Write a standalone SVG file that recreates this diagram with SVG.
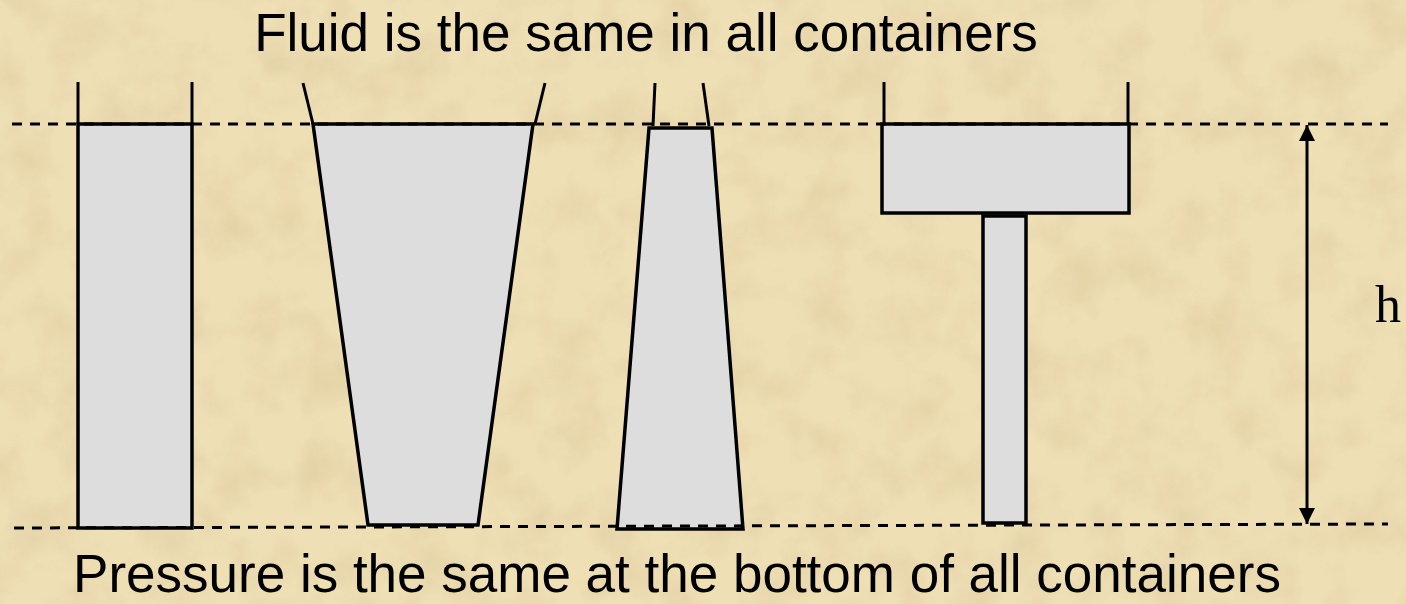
<svg xmlns="http://www.w3.org/2000/svg" width="1406" height="604" viewBox="0 0 1406 604">
  <style>
    .fluid { fill: #dddddd; stroke: #000; stroke-width: 3.5; stroke-linejoin: miter; }
    .wall { stroke: #000; stroke-width: 3; fill: none; }
    .dash { stroke: #000; stroke-width: 3; stroke-dasharray: 10 8; fill: none; }
    .label { font-family: "Liberation Sans", Arial, sans-serif; font-size: 53px; fill: #000; }
    .h { font-family: "Liberation Serif", "Times New Roman", serif; font-size: 52px; fill: #000; }
  </style>
  <defs>
    <filter id="parch" x="0" y="0" width="100%" height="100%">
      <feTurbulence type="fractalNoise" baseFrequency="0.02" numOctaves="4" seed="7" result="n"/>
      <feColorMatrix in="n" type="matrix" values="0 0 0 0 0.55  0 0 0 0 0.42  0 0 0 0 0.2  0 0 0 1.1 -0.45" result="c"/>
      <feComposite in="c" in2="SourceGraphic" operator="in"/>
    </filter>
    <marker id="ah" markerWidth="16" markerHeight="16" refX="16" refY="8" orient="auto-start-reverse" markerUnits="userSpaceOnUse" viewBox="0 0 16 16">
      <path d="M0,0 L16,8 L0,16 z" fill="#000"/>
    </marker>
  </defs>

  <rect width="1406" height="604" fill="#efdfb5"/>
  <rect width="1406" height="604" fill="#efdfb5" filter="url(#parch)" opacity="0.45"/>

  <g id="title">
    <text class="label" x="646" y="51" text-anchor="middle">Fluid is the same in all containers</text>
  </g>

  <g id="container1">
    <line class="wall" x1="78" y1="82" x2="78" y2="124"/>
    <line class="wall" x1="192" y1="82" x2="192" y2="124"/>
    <rect class="fluid" x="78" y="124" width="114" height="404"/>
  </g>

  <g id="container2">
    <line class="wall" x1="303" y1="83" x2="313" y2="124"/>
    <line class="wall" x1="545" y1="83" x2="535" y2="124"/>
    <polygon class="fluid" points="313,124 533,124 478,525 368,525"/>
  </g>

  <g id="container3">
    <line class="wall" x1="655" y1="83" x2="653" y2="126"/>
    <line class="wall" x1="703" y1="83" x2="709" y2="126"/>
    <polygon class="fluid" points="649,128 712,128 743,529 617,529"/>
  </g>

  <g id="container4">
    <line class="wall" x1="884" y1="82" x2="884" y2="124"/>
    <line class="wall" x1="1128" y1="82" x2="1128" y2="124"/>
    <rect class="fluid" x="882" y="124" width="247" height="89"/>
    <rect class="fluid" x="983" y="216" width="43" height="307"/>
  </g>

  <g id="connectors">
    <line class="dash" x1="12" y1="124" x2="1388" y2="124"/>
    <line class="dash" x1="14" y1="528" x2="1388" y2="524"/>
    <line x1="1307" y1="125" x2="1307" y2="524" stroke="#000" stroke-width="3" marker-start="url(#ah)" marker-end="url(#ah)"/>
  </g>

  <g id="height-label">
    <text class="h" x="1388" y="322" text-anchor="middle">h</text>
  </g>

  <g id="caption">
    <text class="label" x="677" y="592" text-anchor="middle">Pressure is the same at the bottom of all containers</text>
  </g>
</svg>
